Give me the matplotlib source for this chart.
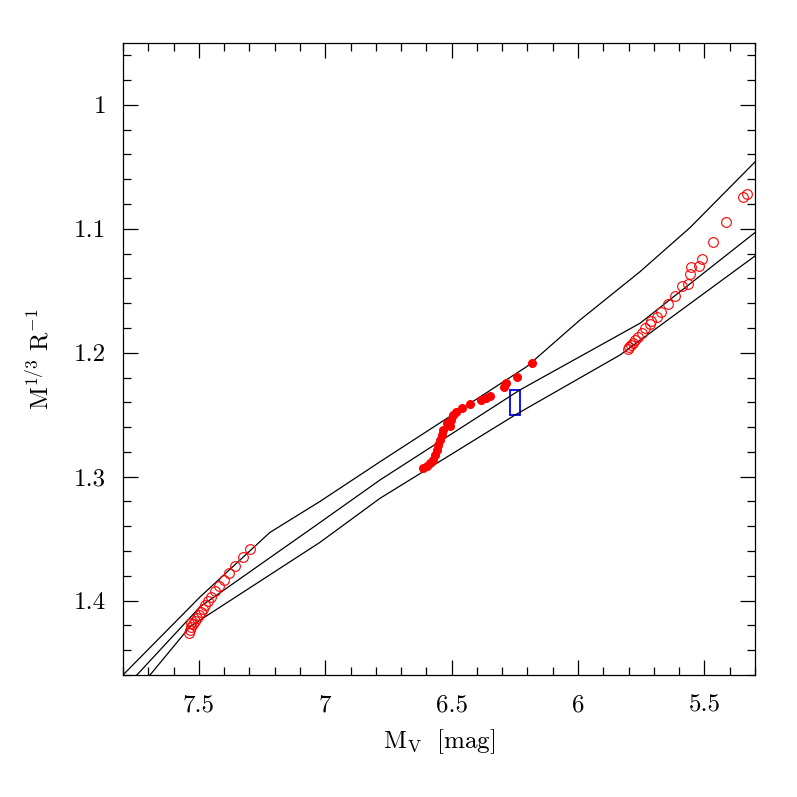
import matplotlib
matplotlib.use('Agg')
import matplotlib.pyplot as plt
from matplotlib.patches import Rectangle
from matplotlib.ticker import MultipleLocator
import numpy as np

plt.rcParams['font.family'] = 'serif'
plt.rcParams['font.serif'] = ['cmr10', 'DejaVu Serif']
plt.rcParams['mathtext.fontset'] = 'cm'
plt.rcParams['axes.formatter.use_mathtext'] = True

# model sequences (Mv, M^1/3 R^-1)
upper_mv = [7.90, 7.80, 7.495, 7.219, 7.021, 6.783, 6.203, 5.992, 5.755, 5.557, 5.300]
upper_y = [1.468, 1.460, 1.397, 1.345, 1.320, 1.2879, 1.2112, 1.1735, 1.1346, 1.099, 1.046]

middle_mv = [7.85, 7.745, 7.495, 7.021, 6.783, 6.230, 5.755, 5.300]
middle_y = [1.469, 1.460, 1.405, 1.337, 1.3026, 1.2300, 1.1762, 1.103]

lower_mv = [7.78, 7.693, 7.535, 7.021, 6.783, 6.249, 5.834, 5.300]
lower_y = [1.468, 1.460, 1.421, 1.353, 1.3174, 1.2502, 1.2018, 1.1219]

# open circles, faint end
faint_mv = [7.298, 7.325, 7.357, 7.381, 7.400, 7.420, 7.436, 7.452, 7.464, 7.476,
            7.484, 7.491, 7.499, 7.507, 7.515, 7.523, 7.531, 7.535, 7.539, 7.532]
faint_y = [1.3583, 1.3648, 1.3720, 1.3777, 1.3833, 1.3882, 1.3922, 1.3971, 1.4003, 1.4035,
           1.4068, 1.4092, 1.4116, 1.4140, 1.4164, 1.4189, 1.4213, 1.4237, 1.4261, 1.4180]

# open circles, bright end
bright_mv = [5.333, 5.349, 5.415, 5.467, 5.511, 5.522, 5.554, 5.557, 5.564, 5.590,
             5.616, 5.645, 5.672, 5.689, 5.711, 5.715, 5.735, 5.748, 5.762, 5.775,
             5.784, 5.792, 5.797, 5.801]
bright_y = [1.0719, 1.0745, 1.0942, 1.1103, 1.1243, 1.1300, 1.1310, 1.1364, 1.1445, 1.1459,
            1.1542, 1.1609, 1.1668, 1.1709, 1.1741, 1.1768, 1.1802, 1.1843, 1.1870, 1.1897,
            1.1918, 1.1937, 1.1956, 1.1972]

# filled circles
mid_mv = [6.183, 6.243, 6.285, 6.293, 6.348, 6.364, 6.384, 6.427, 6.460, 6.483,
          6.495, 6.504, 6.506, 6.518, 6.533, 6.539, 6.546, 6.553, 6.559, 6.566,
          6.573, 6.586, 6.599, 6.612]
mid_y = [1.2080, 1.2198, 1.2246, 1.2274, 1.2349, 1.2361, 1.2381, 1.2413, 1.2448, 1.2478,
         1.2502, 1.2542, 1.2591, 1.2566, 1.2623, 1.2663, 1.2704, 1.2744, 1.2784, 1.2825,
         1.2865, 1.2892, 1.2913, 1.2932]

# observed system box
box_mv = 6.25
box_dmv = 0.02
box_y = 1.24
box_dy = 0.01

fig = plt.figure(figsize=(7.97, 7.97), dpi=100)
ax = fig.add_axes([0.1543, 0.1531, 0.793, 0.793])

for xs, ys in [(upper_mv, upper_y), (middle_mv, middle_y), (lower_mv, lower_y)]:
    ax.plot(xs, ys, color='black', lw=0.9)

ax.plot(faint_mv, faint_y, 'o', mfc='none', mec='red', ms=7, mew=0.8)
ax.plot(bright_mv, bright_y, 'o', mfc='none', mec='red', ms=7, mew=0.8)
ax.plot(mid_mv, mid_y, 'o', color='red', ms=6.5, mew=0)

ax.add_patch(Rectangle((box_mv - box_dmv, box_y - box_dy), 2 * box_dmv, 2 * box_dy,
                       fill=False, edgecolor='blue', lw=1.3))

ax.set_xlim(7.8, 5.3)
ax.set_ylim(1.46, 0.95)

ax.xaxis.set_major_locator(MultipleLocator(0.5))
ax.xaxis.set_minor_locator(MultipleLocator(0.1))
ax.yaxis.set_major_locator(MultipleLocator(0.1))
ax.yaxis.set_minor_locator(MultipleLocator(0.02))
ax.xaxis.set_major_formatter(plt.FuncFormatter(lambda v, p: f'{v:g}'))
ax.yaxis.set_major_formatter(plt.FuncFormatter(lambda v, p: f'{v:g}'))

ax.tick_params(which='both', direction='in', top=True, right=True, width=0.9)
ax.tick_params(which='major', length=11, labelsize=18)
ax.tick_params(which='minor', length=5.5)
ax.tick_params(axis='x', which='major', pad=14)
ax.tick_params(axis='y', which='major', pad=12)
for s in ax.spines.values():
    s.set_linewidth(0.9)

ax.set_xlabel(r'$\mathrm{M_V\ \ [mag]}$', fontsize=18, labelpad=8)
ax.set_ylabel(r'$\mathrm{M^{1/3}\ R^{-1}}$', fontsize=18)
ax.yaxis.set_label_coords(-0.11, 0.5)

fig.savefig('out.png', dpi=100)
